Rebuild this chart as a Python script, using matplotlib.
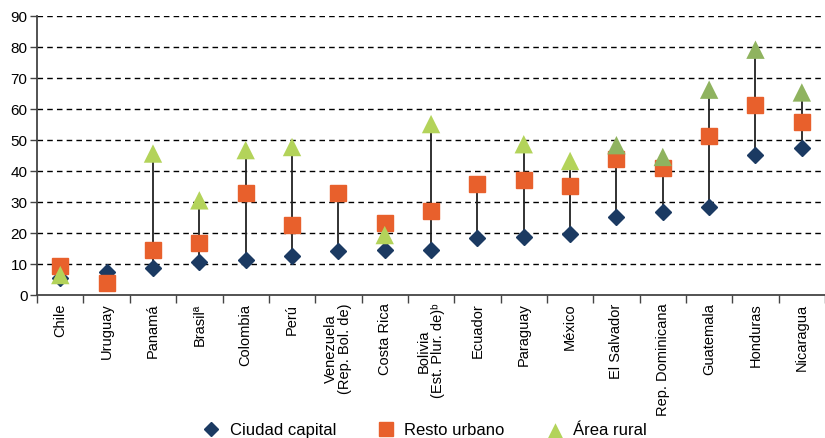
import numpy as np
import matplotlib.pyplot as plt

plt.rcParams['font.family'] = ['Liberation Sans', 'DejaVu Sans']

paises = ['Chile', 'Uruguay', 'Panamá', 'Brasilª', 'Colombia', 'Perú',
          'Venezuela\n(Rep. Bol. de)', 'Costa Rica', 'Bolivia\n(Est. Plur. de)ᵇ',
          'Ecuador', 'Paraguay', 'México', 'El Salvador', 'Rep. Dominicana',
          'Guatemala', 'Honduras', 'Nicaragua']
capital = [5.5, 7.5, 8.8, 10.8, 11.3, 12.6, 14.3, 14.7, 14.7, 18.6, 18.9, 19.6,
           25.3, 27.0, 28.3, 45.1, 47.4]
resto = [9.3, 4.1, 14.7, 17.0, 33.1, 22.8, 33.1, 23.4, 27.3, 36.0, 37.3, 35.1,
         43.8, 40.9, 51.2, 61.2, 56.0]
rural = [6.5, np.nan, 45.7, 30.6, 46.8, 47.8, np.nan, 19.4, 55.2, np.nan, 48.7,
         43.3, 48.4, 44.6, 66.3, 79.2, 65.4]

verde_claro = '#b3d35a'
verde_osc = '#8fb35f'
colores_rural = [verde_claro] * 12 + [verde_osc] * 5

x = np.arange(len(paises))
fig = plt.figure(figsize=(8.25, 4.38), dpi=100)
ax = fig.add_axes([0.045, 0.326, 0.955, 0.637])

# lineas verticales entre minimo y maximo
vals = np.array([capital, resto, rural], dtype=float)
ax.vlines(x, np.nanmin(vals, axis=0), np.nanmax(vals, axis=0),
          color='#222222', lw=1.3, zorder=2)

ax.plot(x, capital, 'D', color='#1b3a62', ms=8, ls='none', zorder=3,
        label='Ciudad capital')
ax.plot(x, resto, 's', color='#e8602c', ms=11, ls='none', zorder=4,
        label='Resto urbano')
ax.scatter(x, rural, marker='^', c=colores_rural, s=175, zorder=5,
           linewidths=0)
ax.scatter([], [], marker='^', c=verde_claro, s=175, linewidths=0,
           label='Área rural')

ax.set_xlim(-0.5, len(paises) - 0.5)
ax.set_ylim(0, 90)
ax.set_yticks(range(0, 91, 10))
ax.tick_params(axis='y', labelsize=11, length=5, width=1, color='#444444',
               pad=2)
for y in range(10, 91, 10):
    ax.axhline(y, color='black', lw=1, ls=(0, (4, 3)), zorder=1)

ax.set_xticks(x)
ax.set_xticklabels(paises, rotation=90, fontsize=10.5, linespacing=1.0)
ax.tick_params(axis='x', length=0, pad=6)
ax.set_xticks(np.arange(-0.5, len(paises), 1), minor=True)
ax.tick_params(axis='x', which='minor', length=6, width=1, color='#444444')

for s in ['top', 'right']:
    ax.spines[s].set_visible(False)
for s in ['left', 'bottom']:
    ax.spines[s].set_color('#444444')
    ax.spines[s].set_linewidth(1.3)

fig.legend(loc='lower center', bbox_to_anchor=(0.51, -0.035), ncol=3,
           frameon=False, fontsize=12, handletextpad=0.1, columnspacing=2.0,
           markerscale=0.9)

fig.savefig('out.png', dpi=100)
